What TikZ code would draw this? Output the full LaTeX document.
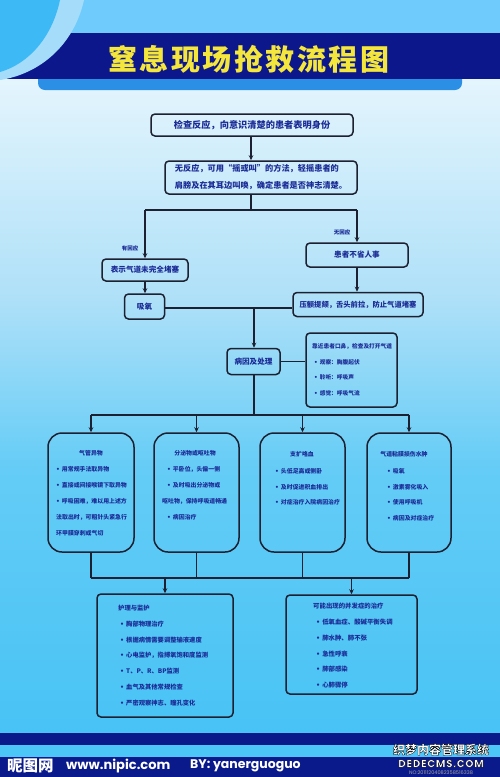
\documentclass[tikz,border=0pt]{standalone}
\usepackage{fontspec}
\newfontfamily\cjk{Noto Sans CJK SC}
\newfontfamily\latn{Poppins}
\newfontfamily\dv{DejaVu Sans}
\usetikzlibrary{arrows.meta,calc}
\definecolor{bgA}{HTML}{E4F5FD}
\definecolor{bgB}{HTML}{AEE0F8}
\definecolor{bgC}{HTML}{64CCF6}
\definecolor{bgD}{HTML}{48C3F5}
\definecolor{headlight}{HTML}{6ECBFB}
\definecolor{band}{HTML}{0C178C}
\definecolor{bar}{HTML}{2A8FE5}
\definecolor{swooshA}{HTML}{A5DCFA}
\definecolor{swooshB}{HTML}{3DBAF6}
\definecolor{navy}{HTML}{1B2B96}
\definecolor{edge}{HTML}{1C2030}
\definecolor{ttlyellow}{HTML}{F5E63C}
\definecolor{ftlight}{HTML}{4CC6F6}
\definecolor{ftdark}{HTML}{0B1A8A}
\newcommand\bul{{\dv •}\hspace{2pt}}
\newcommand\strk[1]{{\color{white}\special{pdf:literal direct 0 0 0 RG 0.3 w 2 Tr}#1\special{pdf:literal direct 0 Tr}}}
\tikzset{
  bx/.style={draw=edge, line width=1.5pt, rounded corners=4pt, inner sep=0pt, text=navy, align=left,
    font=\cjk\bfseries\fontsize{7.6}{9}\selectfont},
  bigbx/.style={draw=edge, line width=1.5pt, rounded corners=14pt, inner sep=0pt},
  txt/.style={text=navy, inner sep=0pt, align=left, font=\cjk\bfseries\fontsize{5.9}{16}\selectfont},
  ttl/.style={text=navy, inner sep=0pt, font=\cjk\bfseries\fontsize{5.9}{7}\selectfont},
  lbl/.style={text=navy, inner sep=0pt, font=\cjk\bfseries\fontsize{5.5}{6}\selectfont},
  ln/.style={draw=edge, line width=1.3pt},
  arr/.style={ln, -{Stealth[length=5pt,width=4.5pt]}},
}
\begin{document}
\begin{tikzpicture}[x=1pt,y=-1pt]
\useasboundingbox (0,0) rectangle (500,777);
% ---------- background ----------
\fill[headlight] (0,0) rectangle (500,34);
\fill[top color=bgA,bottom color=bgB] (0,79) rectangle (500,300);
\fill[top color=bgB,bottom color=bgC] (0,299.5) rectangle (500,470);
\fill[top color=bgC,bottom color=bgD] (0,469.5) rectangle (500,733);
\fill[band] (0,33) rectangle (500,79);
\fill[swooshA] (0,0) -- (84,0) .. controls (74,45) and (40,74) .. (0,80) -- cycle;
\fill[swooshB] (0,0) -- (60,0) .. controls (52,38) and (28,64) .. (0,72) -- cycle;
\fill[bar] (38,79) -- (462,79) -- (462,82) [rounded corners=7pt] -- (462,90) -- (38,90) [sharp corners] -- (38,82) -- cycle;
% title
\node[inner sep=0pt, text=ttlyellow, font=\cjk\bfseries\fontsize{29}{30}\selectfont] (title) at (249,59)
  {窒\kern2.5pt 息\kern2.5pt 现\kern2.5pt 场\kern2.5pt 抢\kern2.5pt 救\kern2.5pt 流\kern2.5pt 程\kern2.5pt 图};
% footer
\fill[ftdark] (0,733) rectangle (500,745);
\fill[ftlight] (0,745) rectangle (500,757);
\fill[ftdark] (0,757) rectangle (500,777);
\node[inner sep=0pt, anchor=west, text=white, font=\cjk\bfseries\fontsize{15.5}{16}\selectfont] (f1) at (7,766) {昵图网};
\node[inner sep=0pt, anchor=west, text=white, font=\latn\bfseries\fontsize{13}{14}\selectfont] (f2) at (66,766) {www.nipic.com};
\node[inner sep=0pt, anchor=west, text=white, font=\latn\bfseries\fontsize{12.5}{13}\selectfont] (f3) at (190,766) {BY: yanerguoguo};
\node[inner sep=0pt, text=gray!70, font=\latn\fontsize{5}{5}\selectfont] (w3) at (441,773) {NO:20111204082358516338};
% ---------- flow boxes ----------
\node[bx, minimum width=202pt, minimum height=22pt, font=\cjk\bfseries\fontsize{9.2}{10}\selectfont] (b1) at (252,125) {检查反应，向意识清楚的患者表明身份};
\node[bx, minimum width=192pt, minimum height=33pt, font=\cjk\bfseries\fontsize{8.2}{17}\selectfont] (b2) at (261,177.5)
  {无反应，可用“摇或叫”的方法，轻摇患者的\\肩膀及在其耳边叫唤，确定患者是否神志清楚。};
\node[bx, minimum width=86pt, minimum height=22pt] (b3) at (145,270) {表示气道未完全堵塞};
\node[bx, minimum width=102pt, minimum height=24pt] (b4) at (357,255) {患者不省人事};
\node[bx, minimum width=40pt, minimum height=25pt] (b5) at (144.5,306.5) {吸氧};
\node[bx, minimum width=130pt, minimum height=24pt, font=\cjk\bfseries\fontsize{7.3}{9}\selectfont] (b6) at (358,304.5) {压额提颏，舌头前拉，防止气道堵塞};
\node[bx, minimum width=53pt, minimum height=26pt] (b7) at (253.5,361.5) {病因及处理};
\node[bx, minimum width=91pt, minimum height=74pt] (b8) at (351.5,370) {};
\node[txt, anchor=north west, font=\cjk\bfseries\fontsize{5.7}{15.7}\selectfont] (t8) at (312,343.3)
  {靠近患者口鼻，检查及打开气道\\\hspace{2pt}\bul 观察：胸腹起伏\\\hspace{2pt}\bul 聆听：呼吸声\\\hspace{2pt}\bul 感觉：呼吸气流};
\node[lbl] (l1) at (130,248) {有回应};
\node[lbl] (l2) at (342,232) {无回应};
% four cause boxes
\node[bigbx, minimum width=86pt, minimum height=119pt] (A) at (91,492.5) {};
\node[bigbx, minimum width=85pt, minimum height=119pt] (B) at (196.5,492.5) {};
\node[bigbx, minimum width=85pt, minimum height=119pt] (C) at (302.5,492.5) {};
\node[bigbx, minimum width=84pt, minimum height=119pt] (D) at (409,492.5) {};
\node[ttl] (hA) at (91,453) {气管异物};
\node[ttl] (hB) at (195,453) {分泌物或呕吐物};
\node[ttl] (hC) at (302,454) {支扩咯血};
\node[ttl] (hD) at (404,454) {气道粘膜损伤水肿};
\node[txt, anchor=north west] (tA) at (56,466.3)
  {\bul 用常规手法取异物\\\bul 直接或间接喉镜下取异物\\\bul 呼吸困难，难以用上述方\\法取出时，可粗针头紧急行\\环甲膜穿刺或气切};
\node[txt, anchor=north west] (tB) at (162,466.3)
  {\hspace{5pt}\bul 平卧位，头偏一侧\\\hspace{5pt}\bul 及时吸出分泌物或\\呕吐物，保持呼吸道畅通\\\hspace{5pt}\bul 病因治疗};
\node[txt, anchor=north west, font=\cjk\bfseries\fontsize{5.9}{15.5}\selectfont] (tC) at (275,468.2)
  {\bul 头低足高或侧卧\\\bul 及时促进积血排出\\\bul 对症治疗入院病因治疗};
\node[txt, anchor=north west, font=\cjk\bfseries\fontsize{5.9}{15.7}\selectfont] (tD) at (387,468.2)
  {\bul 吸氧\\\bul 激素雾化吸入\\\bul 使用呼吸机\\\bul 病因及对症治疗};
% bottom boxes
\node[bx, minimum width=136pt, minimum height=123pt] (E) at (165,655.5) {};
\node[bx, minimum width=131pt, minimum height=99pt] (F) at (351.5,644.5) {};
\node[txt, anchor=north west, font=\cjk\bfseries\fontsize{6.3}{15.8}\selectfont] (tE) at (118,605)
  {护理与监护\\\hspace{2pt}\bul 胸部物理治疗\\\hspace{2pt}\bul 根据病情需要调整输液速度\\\hspace{2pt}\bul 心电监护，指搏氧饱和度监测\\\hspace{2pt}\bul T、P、R、BP监测\\\hspace{2pt}\bul 血气及其他常规检查\\\hspace{2pt}\bul 严密观察神志、瞳孔变化};
\node[txt, anchor=north west, font=\cjk\bfseries\fontsize{6.4}{15.8}\selectfont] (tF) at (313,603)
  {可能出现的并发症的治疗\\\hspace{3pt}\bul 低氧血症、酸碱平衡失调\\\hspace{3pt}\bul 肺水肿、肺不张\\\hspace{3pt}\bul 急性呼衰\\\hspace{3pt}\bul 肺部感染\\\hspace{3pt}\bul 心肺骤停};
% ---------- connectors ----------
\coordinate (j1) at (251,210);
\coordinate (jL) at (145,210);
\coordinate (jR) at (357,210);
\coordinate (j2) at (254,308);
\coordinate (j3) at (254,415);
\coordinate (jA) at (91,415);
\coordinate (jD) at (409,415);
\coordinate (k1) at (91,578);
\coordinate (k2) at (409,578);
\coordinate (kE) at (165,578);
\coordinate (kF) at (351.5,578);
\draw[arr] (b1.south -| j1) -- (j1 |- b2.north);
\draw[ln] (j1 |- b2.south) -- (j1);
\draw[ln] (jL) -- (jR);
\draw[arr] (jL) -- (b3.north);
\draw[arr] (jR) -- (b4.north);
\draw[arr] (b3.south) -- (b3.south |- b5.north);
\draw[arr] (b4.south) -- (b4.south |- b6.north);
\draw[ln] (b5.east |- j2) -- (b6.west |- j2);
\draw[arr] (j2) -- (j2 |- b7.north);
\draw[ln] (b7.east) -- (b7.east -| b8.west);
\draw[ln] (j3 |- b7.south) -- (j3);
\draw[ln] (jA) -- (jD);
\draw[arr] (jA) -- (A.north);
\draw[arr] (B.north |- j3) -- (B.north);
\draw[arr] (C.north |- j3) -- (C.north);
\draw[arr] (jD) -- (D.north);
\draw[ln] (A.south) -- (k1);
\draw[ln] (B.south) -- (B.south |- k1);
\draw[ln] (C.south) -- (C.south |- k1);
\draw[ln] (D.south) -- (k2);
\draw[ln] (k1) -- (k2);
\draw[arr] (kE) -- (E.north);
\draw[arr] (kF) -- (F.north);
% watermark (last: it sets text render mode)
\node[inner sep=0pt, font=\cjk\bfseries\fontsize{12}{12}\selectfont] (w1) at (441,749.5) {\strk{织梦内容管理系统}};
\node[inner sep=0pt, font=\latn\bfseries\fontsize{10.5}{11}\selectfont] (w2) at (441,763.5) {\strk{D\kern0.6pt E\kern0.6pt D\kern0.6pt E\kern0.6pt C\kern0.6pt M\kern0.6pt S\kern0.6pt .\kern0.6pt C\kern0.6pt O\kern0.6pt M}};
\end{tikzpicture}
\end{document}
